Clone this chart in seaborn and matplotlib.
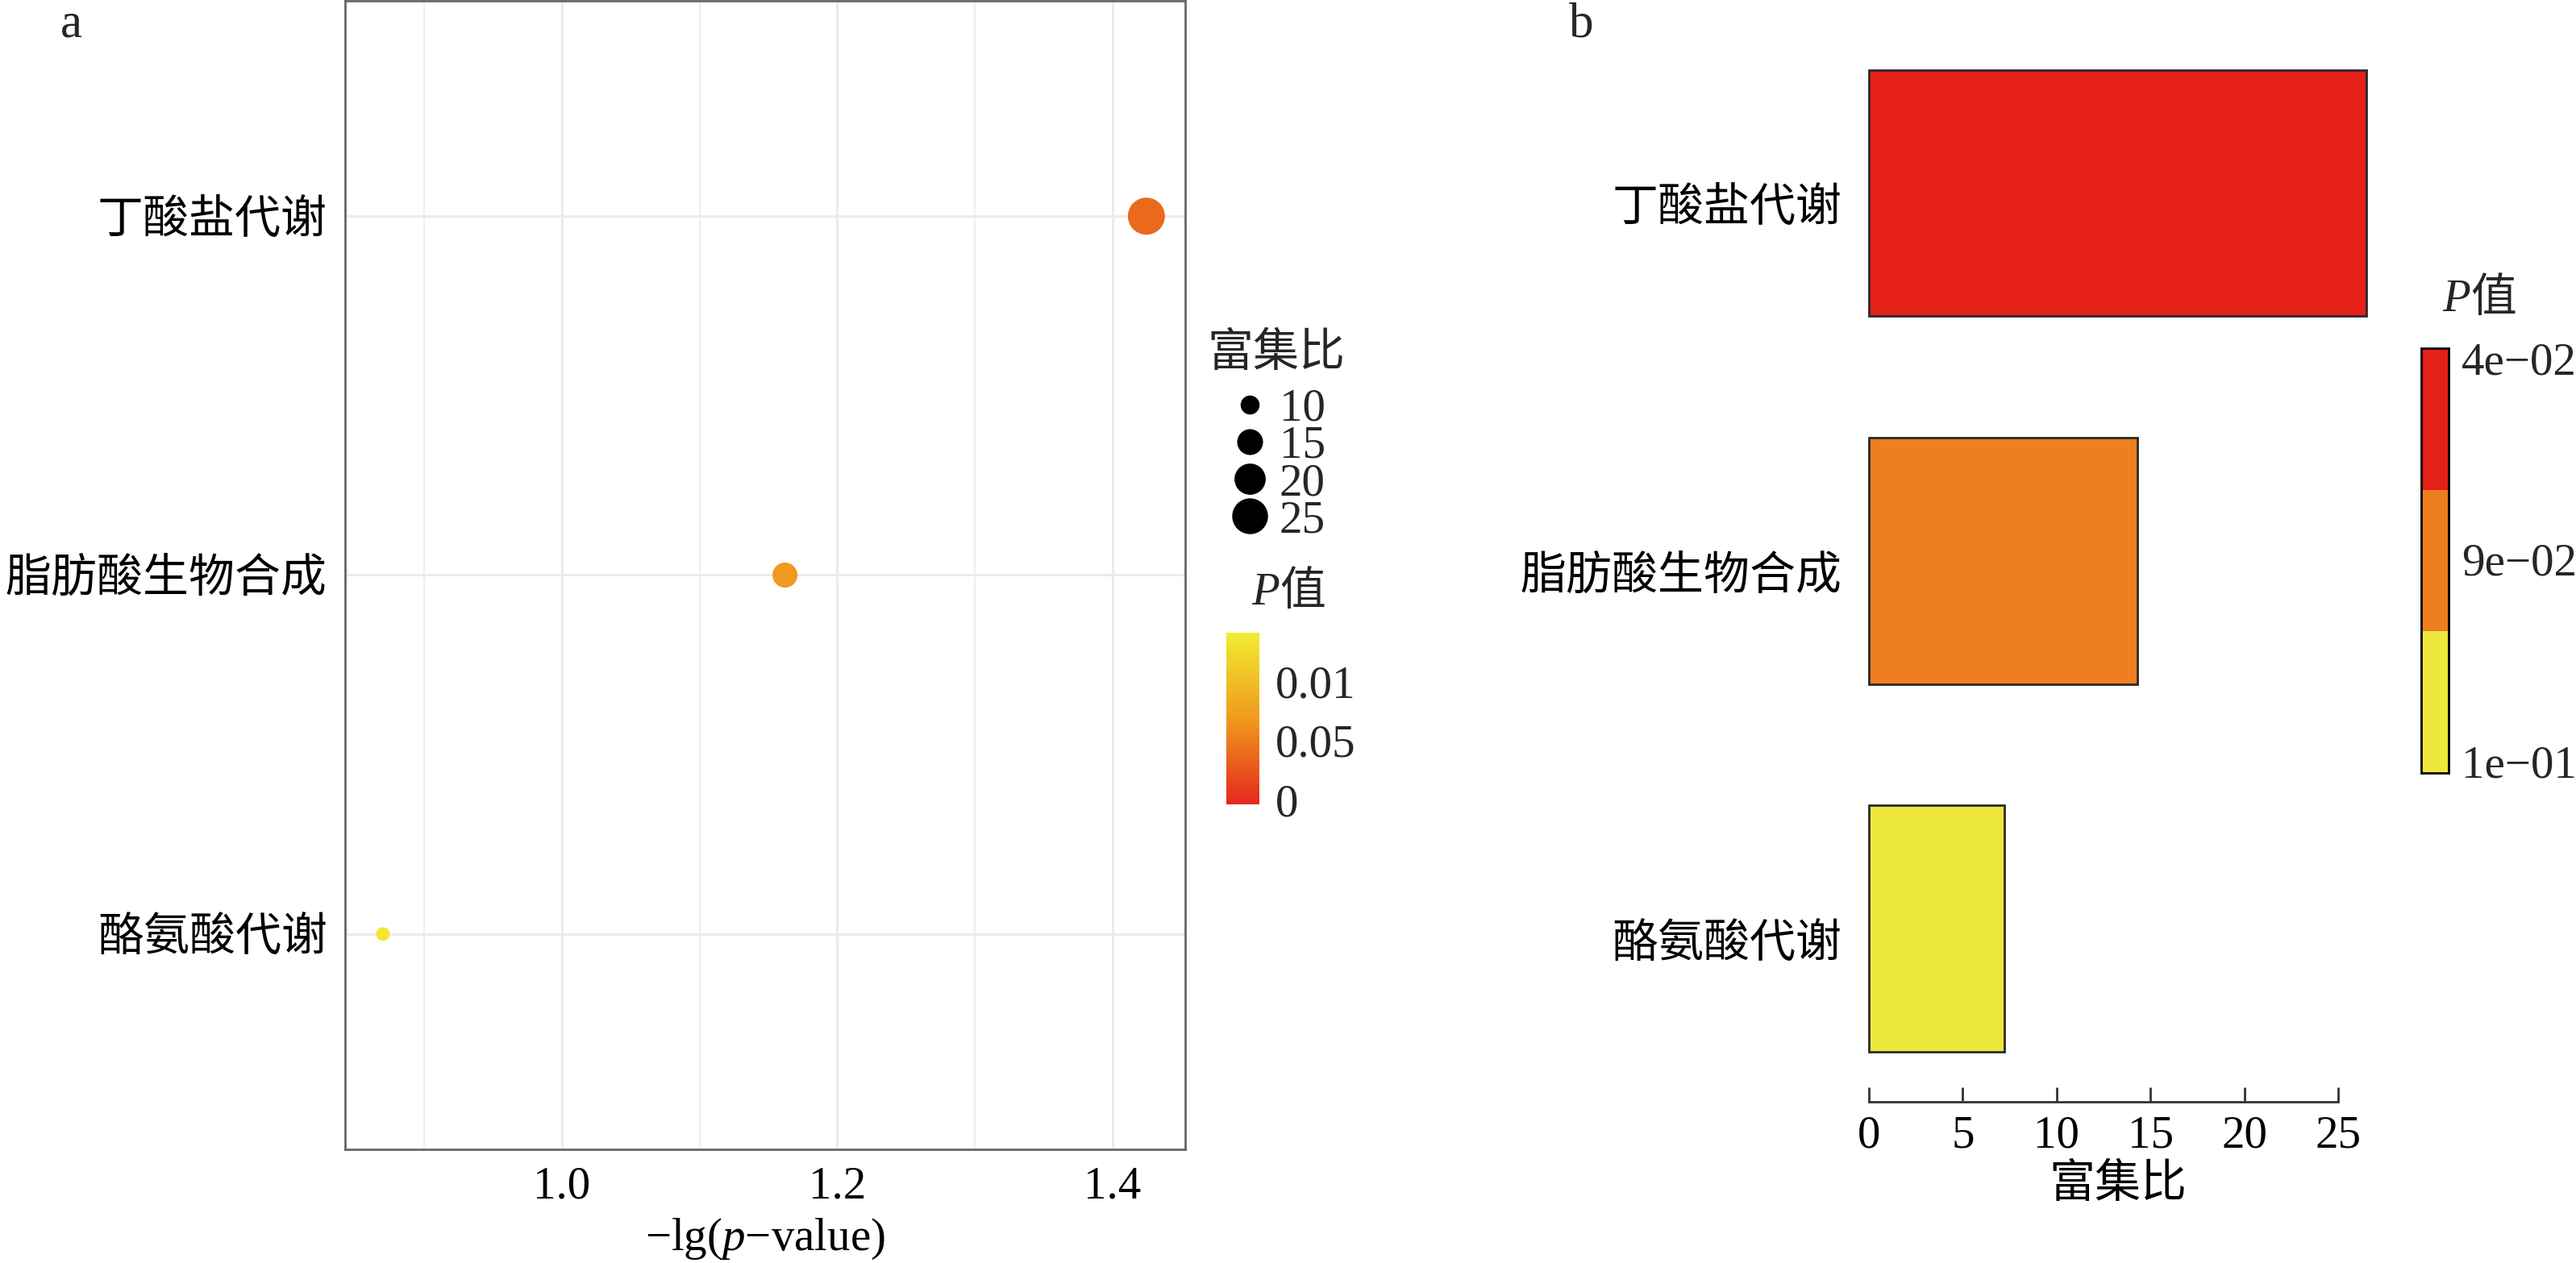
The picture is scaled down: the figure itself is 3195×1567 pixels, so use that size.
import numpy as np
import pandas as pd
import matplotlib
matplotlib.use("Agg")
import matplotlib.pyplot as plt
import matplotlib.transforms as mtransforms
import seaborn as sns
from matplotlib.colors import LinearSegmentedColormap, ListedColormap, Normalize
from matplotlib.cm import ScalarMappable
from matplotlib.lines import Line2D

# ---------------- data ----------------
pathways = ["丁酸盐代谢", "脂肪酸生物合成", "酪氨酸代谢"]
neg_lg_p = [1.4245, 1.162, 0.870]
p_values = [0.0376, 0.0689, 0.1349]
enrich_ratio = [26.5, 14.3, 7.2]

x_ticks_a = [1.0, 1.2, 1.4]
x_minor_a = [0.9, 1.1, 1.3]
size_legend_values = [10, 15, 20, 25]
pcbar_a_ticks = [0.10, 0.05, 0.0]
pcbar_a_labels = ["0.01", "0.05", "0"]
x_ticks_b = [0, 5, 10, 15, 20, 25]
bar_colors = ["#E42019", "#EE7E1F", "#EEE73C"]
pcbar_b_labels = ["1e\u221201", "9e\u221202", "4e\u221202"]
gradient_colors = ["#E5281E", "#F09A1D", "#F2EC31"]

# ---------------- style ----------------
sns.set_theme(style="white")
plt.rcParams["font.family"] = ["Liberation Serif", "Noto Sans CJK SC"]
plt.rcParams["mathtext.fontset"] = "custom"
plt.rcParams["mathtext.rm"] = "Liberation Serif"
plt.rcParams["mathtext.it"] = "Liberation Serif:italic"
plt.rcParams["axes.unicode_minus"] = True

FS = 20.5
DPI = 200
W, H = 3195, 1567
fig = plt.figure(figsize=(W / DPI, H / DPI), dpi=DPI)
fig.patch.set_facecolor("white")


def fx(px):
    return px / W


def fy(py):
    return 1 - py / H


df = pd.DataFrame({"pathway": pathways, "neglgp": neg_lg_p, "p": p_values, "ratio": enrich_ratio})

# ---------------- panel a ----------------
ax_a = fig.add_axes([fx(428), fy(1426), (1470 - 428) / W, (1426 - 1) / H])
cmap_a = LinearSegmentedColormap.from_list("pgrad", gradient_colors)
p_norm = (-0.004, 0.141)
size_min, size_max = 37.5, 274.0
s_norm = (min(enrich_ratio), max(enrich_ratio))
sns.scatterplot(data=df, x="neglgp", y="pathway", hue="p", palette=cmap_a, hue_norm=p_norm,
                size="ratio", sizes=(size_min, size_max), size_norm=s_norm,
                linewidth=0, legend=False, ax=ax_a, zorder=3)
ax_a.set_xlim(0.8425, 1.4527)
ax_a.set_ylim(2.6, -0.6)
ax_a.set_xticks(x_ticks_a)
ax_a.set_xticklabels([f"{v:.1f}" for v in x_ticks_a])
ax_a.set_xticks(x_minor_a, minor=True)
ax_a.grid(which="major", color="#EBEBEB", lw=1.1)
ax_a.grid(which="minor", axis="x", color="#EFEFEF", lw=0.8)
ax_a.set_axisbelow(True)
for sp in ax_a.spines.values():
    sp.set_color("#666666")
    sp.set_linewidth(1.0)
ax_a.tick_params(axis="both", which="major", direction="in", length=4.3, width=1.0,
                 color="black", labelsize=FS, labelcolor="black")
ax_a.tick_params(axis="x", which="major", pad=7.5)
ax_a.tick_params(axis="y", which="major", pad=8)
ax_a.tick_params(which="minor", length=0)
ax_a.set_ylabel("")
ax_a.set_xlabel(r"$\mathregular{-lg(}\mathit{p}\mathregular{-value)}$", fontsize=FS, labelpad=4, color="black")


# size legend (same area mapping as the points)
def size_of(v):
    return size_min + (v - s_norm[0]) / (s_norm[1] - s_norm[0]) * (size_max - size_min)


handles = [Line2D([], [], marker="o", ls="", color="black", markeredgewidth=0,
                  markersize=np.sqrt(size_of(v))) for v in size_legend_values]
leg = fig.legend(handles, [str(v) for v in size_legend_values], title="富集比",
                 loc="upper left", bbox_to_anchor=(fx(1497), fy(413)), frameon=False,
                 fontsize=FS, title_fontsize=FS, handlelength=1.0, handletextpad=0.15,
                 borderpad=0, borderaxespad=0, labelspacing=-0.1)
leg._legend_box.sep = 5.5

# P legend (gradient)
fig.text(fx(1587), fy(736), "P", ha="right", va="center", fontsize=FS, style="italic")
fig.text(fx(1587), fy(736), "值", ha="left", va="center", fontsize=FS)
cax_a = fig.add_axes([fx(1521), fy(998), 41 / W, 213 / H])
cb_a = fig.colorbar(ScalarMappable(norm=Normalize(*p_norm), cmap=cmap_a), cax=cax_a)
cb_a.outline.set_visible(False)
cb_a.set_ticks(pcbar_a_ticks)
cb_a.set_ticklabels(pcbar_a_labels)
cax_a.tick_params(axis="y", which="major", direction="in", color="white", length=4, width=0.8,
                  left=True, right=True, labelleft=False, labelright=True, labelsize=FS, pad=7)
cax_a.minorticks_off()

# ---------------- panel b ----------------
ax_b = fig.add_axes([fx(2287.2), fy(1367), (2965.8 - 2287.2) / W, 1367 / H])
sns.barplot(data=df, x="ratio", y="pathway", hue="pathway", palette=bar_colors, orient="h",
            width=0.67, edgecolor="#2a2a2a", linewidth=1.0, saturation=1, errorbar=None,
            legend=False, ax=ax_b)
ax_b.set_xlim(-1.325, 27.825)
ax_b.set_ylim(2.471, -0.525)
for side in ["left", "top", "right"]:
    ax_b.spines[side].set_visible(False)
ax_b.spines["bottom"].set_bounds(0, 25)
ax_b.spines["bottom"].set_color("#333333")
ax_b.spines["bottom"].set_linewidth(1.0)
ax_b.set_xticks(x_ticks_b)
ax_b.tick_params(axis="x", direction="in", length=6.5, width=1.0, color="#333333",
                 pad=6, labelsize=FS, labelcolor="black", bottom=True)
ax_b.tick_params(axis="y", length=0, pad=1, labelsize=FS, labelcolor="black")
shift = mtransforms.ScaledTranslation(0, -14 / DPI, fig.dpi_scale_trans)
for lab in ax_b.get_yticklabels():
    lab.set_transform(lab.get_transform() + shift)
ax_b.set_ylabel("")
ax_b.set_xlabel("富集比", fontsize=FS, labelpad=3, color="black")
ax_b.grid(False)

# P legend (discrete)
fig.text(fx(3064), fy(372), "P", ha="right", va="center", fontsize=FS, style="italic")
fig.text(fx(3064), fy(372), "值", ha="left", va="center", fontsize=FS)
cax_b = fig.add_axes([fx(3003), fy(959), 34 / W, 527 / H])
cmap_b = ListedColormap(bar_colors[::-1])
cb_b = fig.colorbar(ScalarMappable(norm=Normalize(0, 3), cmap=cmap_b), cax=cax_b)
cb_b.outline.set_edgecolor("black")
cb_b.outline.set_linewidth(1.0)
cb_b.set_ticks([0.08, 1.51, 2.93])
cb_b.set_ticklabels(pcbar_b_labels)
cax_b.tick_params(axis="y", length=0, labelsize=FS, pad=5.8)
cax_b.minorticks_off()

# panel tags
fig.text(fx(88), fy(31), "a", ha="center", va="center", fontsize=22)
fig.text(fx(1961), fy(31), "b", ha="center", va="center", fontsize=22)

fig.savefig("out.png", dpi=DPI, facecolor="white")
